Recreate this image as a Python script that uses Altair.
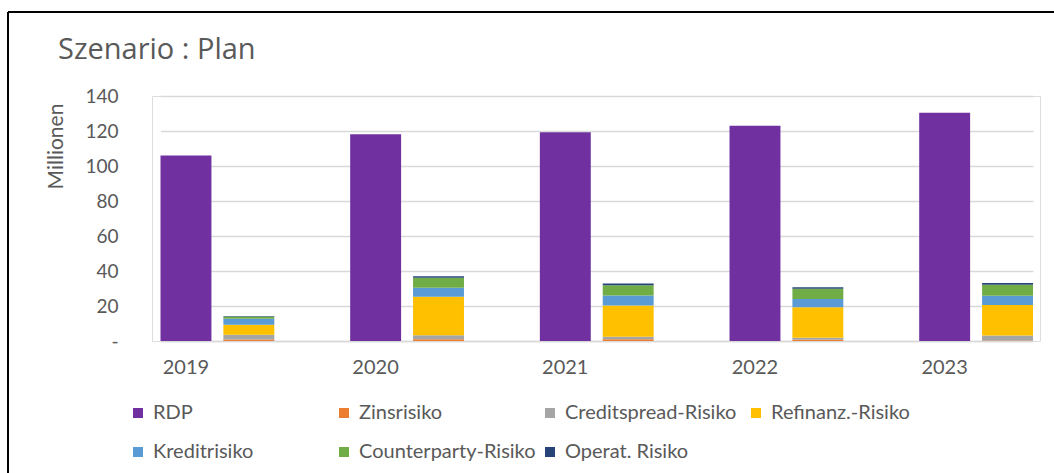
import altair as alt
import pandas as pd

years = ["2019", "2020", "2021", "2022", "2023"]
rdp = [106.0, 118.2, 119.3, 123.0, 130.5]
zins = [0.8, 1.0, 1.0, 0.7, 0.3]
creditspread = [2.8, 2.3, 1.5, 1.1, 2.8]
refinanz = [5.7, 22.0, 17.8, 17.5, 17.5]
kredit = [3.4, 5.1, 5.7, 4.7, 5.3]
counterparty = [1.3, 5.7, 5.9, 5.9, 6.3]
operat = [0.3, 0.9, 0.9, 0.8, 0.9]

series_names = ["RDP", "Zinsrisiko", "Creditspread-Risiko", "Refinanz.-Risiko",
                "Kreditrisiko", "Counterparty-Risiko", "Operat. Risiko"]
series_colors = ["#7030A0", "#ED7D31", "#A5A5A5", "#FFC000",
                 "#5B9BD5", "#70AD47", "#264478"]
risk_values = [zins, creditspread, refinanz, kredit, counterparty, operat]

rows = []
for i, y in enumerate(years):
    rows.append({"year": y, "group": "RDP", "series": "RDP", "value": rdp[i], "idx": 0})
    for k, vals in enumerate(risk_values):
        rows.append({"year": y, "group": "Risiko", "series": series_names[k + 1],
                     "value": vals[i], "idx": k + 1})
df = pd.DataFrame(rows)

FONT = "Lato"
GREY = "#595959"

bars = alt.Chart(df).mark_bar().encode(
    x=alt.X("year:N", sort=years,
            scale=alt.Scale(range=[8.5, 881], paddingInner=0.4, paddingOuter=0),
            axis=alt.Axis(title=None, labelAngle=0, labelOffset=-31.5, labelPadding=16,
                          ticks=False, domain=True, domainColor="#d9d9d9", domainWidth=1.5,
                          grid=False, labelFont=FONT, labelFontSize=20, labelColor=GREY)),
    xOffset=alt.XOffset("group:N",
                        scale=alt.Scale(domain=["RDP", "Risiko"], paddingInner=0.19, paddingOuter=0)),
    y=alt.Y("value:Q", stack="zero",
            scale=alt.Scale(domain=[0, 140], nice=False),
            axis=alt.Axis(title="Millionen", values=[0, 20, 40, 60, 80, 100, 120, 140],
                          labelExpr="datum.value == 0 ? '-\u00a0\u00a0' : datum.label",
                          grid=True, gridColor="#d9d9d9", gridWidth=1.5,
                          domain=False, ticks=False, labelPadding=34,
                          labelFont=FONT, labelFontSize=19, labelColor=GREY,
                          titleFont=FONT, titleFontSize=21, titleColor=GREY,
                          titleFontWeight="normal", titleX=-96, titleY=50,
                          titleAlign="center", titleBaseline="middle")),
    color=alt.Color("series:N",
                    scale=alt.Scale(domain=series_names, range=series_colors),
                    legend=alt.Legend(title=None, orient="none", legendX=-24, legendY=307,
                                      direction="horizontal", columns=4, gridAlign="all",
                                      symbolType="square", symbolSize=100, symbolStrokeWidth=0,
                                      labelFont=FONT, labelFontSize=20, labelColor=GREY,
                                      labelLimit=300, columnPadding=4, rowPadding=19,
                                      labelOffset=5, padding=0)),
    order=alt.Order("idx:Q", sort="ascending"),
)

frame = alt.Data(values=[{"k": 1}])
top_border = alt.Chart(frame).mark_rule(color="black", strokeWidth=2).encode(
    x=alt.value(-144), x2=alt.value(910), y=alt.value(-84))
left_border = alt.Chart(frame).mark_rule(color="black", strokeWidth=2).encode(
    x=alt.value(-144), y=alt.value(-84), y2=alt.value(400))

chart = alt.layer(bars, top_border, left_border).properties(
    width=888, height=245,
    autosize=alt.AutoSizeParams(type="none"),
    padding={"left": 152, "top": 96, "right": 14, "bottom": 132},
    title=alt.TitleParams(text="Szenario : Plan", anchor="start", frame="group", dx=-94,
                          offset=-77, baseline="alphabetic", font="Open Sans", fontSize=29,
                          fontWeight="normal", color=GREY),
).configure_view(stroke=None).configure(background="white")

chart.save("out.html", embed_options={"renderer": "svg", "actions": False})
